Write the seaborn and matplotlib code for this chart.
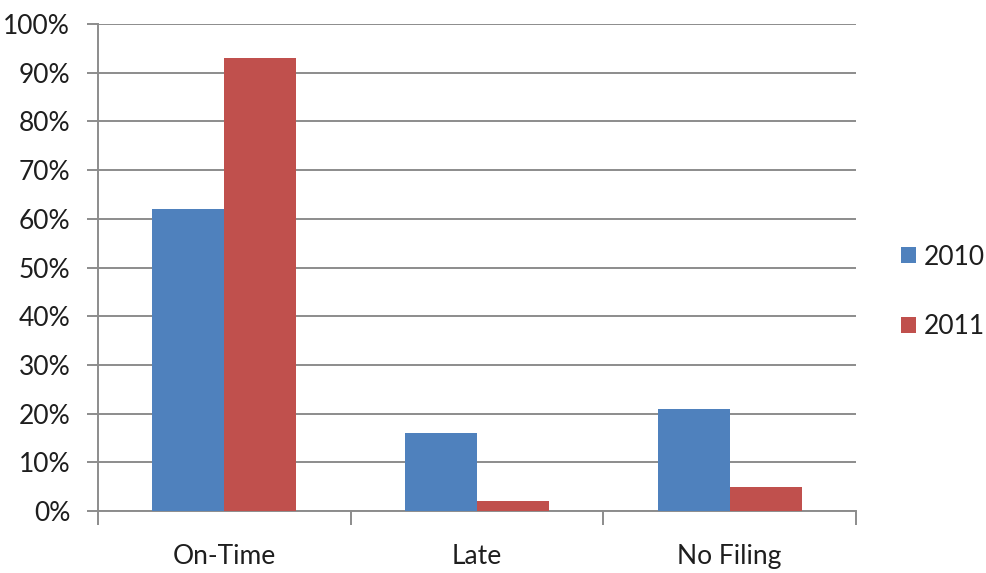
import matplotlib
matplotlib.use("Agg")
import matplotlib.pyplot as plt
from matplotlib.ticker import FixedLocator, PercentFormatter
import seaborn as sns
import pandas as pd

categories = ["On-Time", "Late", "No Filing"]
years = ["2010", "2011"]
values_2010 = [62, 16, 21]
values_2011 = [93, 2, 5]
y_ticks = [0, 10, 20, 30, 40, 50, 60, 70, 80, 90, 100]

df = pd.DataFrame({
    "category": categories * 2,
    "year": [years[0]] * 3 + [years[1]] * 3,
    "share": values_2010 + values_2011,
})

sns.set_theme(style="white")
plt.rcParams["font.family"] = ["Lato", "DejaVu Sans"]

text_color = "#1e1e1e"
grid_color = "#8c8c8c"
palette = {"2010": "#4F81BD", "2011": "#C0504D"}
label_size = 19

fig = plt.figure(figsize=(9.86, 5.73), dpi=100)
ax = fig.add_axes([0.0994, 0.108, 0.7687, 0.850])

sns.barplot(data=df, x="category", y="share", hue="year", order=categories,
            hue_order=years, palette=palette, width=0.57, gap=0,
            saturation=1, errorbar=None, linewidth=0, edgecolor="none",
            ax=ax, zorder=3)

ax.set_xlim(-0.5, 2.5)
ax.set_ylim(0, 100)
ax.set_yticks(y_ticks)
ax.yaxis.set_major_formatter(PercentFormatter(decimals=0))
ax.yaxis.grid(True, color=grid_color, linewidth=1.4, zorder=0)
ax.set_axisbelow(True)

ax.set_xlabel("")
ax.set_ylabel("")

for side in ("top", "right"):
    ax.spines[side].set_visible(False)
for side in ("left", "bottom"):
    ax.spines[side].set_color(grid_color)
    ax.spines[side].set_linewidth(1.4)

ax.tick_params(axis="y", which="major", direction="out", length=8, width=1.4,
               color=grid_color, labelsize=label_size, labelcolor=text_color,
               pad=12, left=True)
ax.tick_params(axis="x", which="major", length=0, labelsize=label_size,
               labelcolor=text_color, pad=24)
ax.xaxis.set_minor_locator(FixedLocator([-0.5, 0.5, 1.5, 2.5]))
ax.tick_params(axis="x", which="minor", direction="out", length=10, width=1.4,
               color=grid_color, bottom=True)

leg = ax.legend(loc="center left", bbox_to_anchor=(1.06, 0.45), frameon=False,
                fontsize=label_size, handlelength=0.55, handleheight=0.55,
                handletextpad=0.3, labelspacing=1.7, borderaxespad=0,
                borderpad=0)
for t in leg.get_texts():
    t.set_color(text_color)

fig.savefig("out.png", dpi=100, facecolor="white")
